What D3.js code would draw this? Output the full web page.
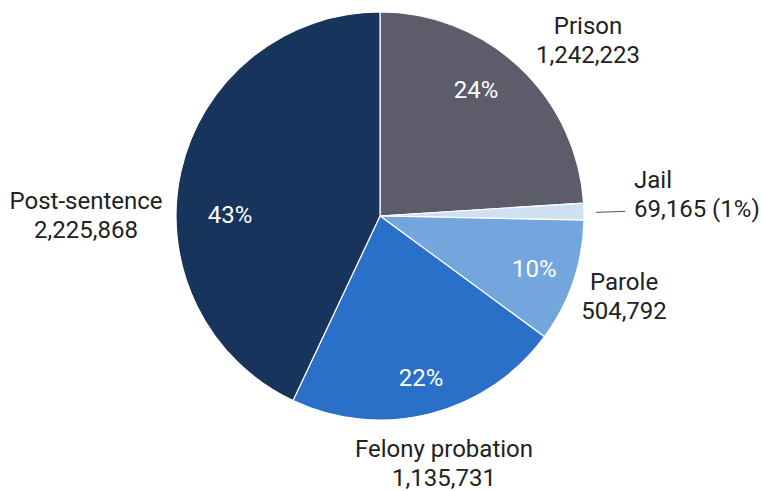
<!DOCTYPE html>
<html>
<head>
<meta charset="utf-8">
<script src="https://cdn.jsdelivr.net/npm/d3@7"></script>
<style>
  body { margin: 0; background: #fff; }
  svg text { font-family: Roboto, "Noto Sans", sans-serif; font-size: 24px; }
</style>
</head>
<body>
<svg id="chart"></svg>
<script>
// data, in clockwise order from 12 o'clock
const categories = ['Prison', 'Jail', 'Parole', 'Felony probation', 'Post-sentence'];
const counts = [1242223, 69165, 504792, 1135731, 2225868];
const pctLabels = ['24%', '', '10%', '22%', '43%'];
const colors = ['#5c5c6a', '#cfe0f2', '#72a6dc', '#2b70c8', '#17345c'];

const width = 761, height = 491;
const cx = 380, cy = 216, radius = 204;

// label placement (position config, not data)
const pctLayout = [
  {r: 159, nudge: -6}, null, {r: 163, nudge: 0}, {r: 167, nudge: 0}, {r: 150, nudge: -12}
];
const outLayout = [
  {x: 588, y: 34, anchor: 'middle'},
  {x: 634, y: 188, anchor: 'start'},
  {x: 624, y: 290, anchor: 'middle'},
  {x: 444, y: 457, anchor: 'middle'},
  {x: 86, y: 209, anchor: 'middle'}
];

const fmt = d3.format(',');
const total = d3.sum(counts);

const svg = d3.select('#chart')
    .attr('width', width)
    .attr('height', height);

const pie = d3.pie().sort(null).value(d => d.value);
const arc = d3.arc().innerRadius(0).outerRadius(radius);

const data = categories.map((c, i) => ({name: c, value: counts[i], i}));
const arcs = pie(data);

const g = svg.append('g').attr('transform', `translate(${cx},${cy})`);

g.selectAll('path.slice')
    .data(arcs)
  .join('path')
    .attr('class', 'slice')
    .attr('d', arc)
    .attr('fill', d => colors[d.data.i])
    .attr('stroke', '#fff')
    .attr('stroke-width', 1.2);

// percent labels inside slices
g.selectAll('text.pct')
    .data(arcs.filter(d => pctLabels[d.data.i]))
  .join('text')
    .attr('class', 'pct')
    .attr('text-anchor', 'middle')
    .attr('dy', '0.35em')
    .attr('fill', '#fff')
    .attr('transform', d => {
      const lay = pctLayout[d.data.i];
      const a = (d.startAngle + d.endAngle) / 2 + lay.nudge * Math.PI / 180;
      return `translate(${Math.sin(a) * lay.r},${-Math.cos(a) * lay.r})`;
    })
    .text(d => pctLabels[d.data.i]);

// outside labels
const out = svg.selectAll('text.out')
    .data(data)
  .join('text')
    .attr('class', 'out')
    .attr('fill', '#222')
    .attr('text-anchor', d => outLayout[d.i].anchor);

out.append('tspan')
    .attr('x', d => outLayout[d.i].x)
    .attr('y', d => outLayout[d.i].y)
    .text(d => d.name);

out.append('tspan')
    .attr('x', d => outLayout[d.i].x)
    .attr('y', d => outLayout[d.i].y + 29)
    .text(d => d.i === 1
      ? `${fmt(d.value)} (${Math.round(d.value / total * 100)}%)`
      : fmt(d.value));

// leader line for the small Jail slice
const jail = arcs[1];
const ja = (jail.startAngle + jail.endAngle) / 2;
svg.append('line')
    .attr('x1', cx + Math.sin(ja) * (radius + 12))
    .attr('y1', cy - Math.cos(ja) * (radius + 12) + 1)
    .attr('x2', outLayout[1].x - 9)
    .attr('y2', cy - Math.cos(ja) * (radius + 12))
    .attr('stroke', '#555')
    .attr('stroke-width', 1);
</script>
</body>
</html>
